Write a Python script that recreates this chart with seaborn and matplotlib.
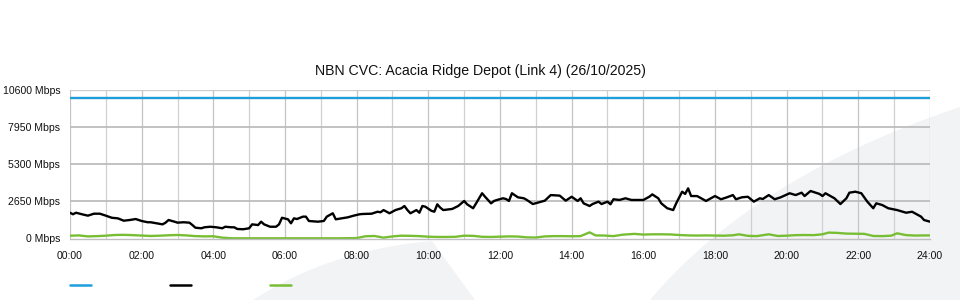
import numpy as np
import pandas as pd
import matplotlib
matplotlib.use("Agg")
import matplotlib.pyplot as plt
import seaborn as sns
from matplotlib.patches import Polygon
from matplotlib.lines import Line2D

# ---------------- data ----------------
title = "NBN CVC: Acacia Ridge Depot (Link 4) (26/10/2025)"
ytick_values = [0, 2650, 5300, 7950, 10600]
ytick_labels = ["0 Mbps", "2650 Mbps", "5300 Mbps", "7950 Mbps", "10600 Mbps"]
xtick_hours = [0, 2, 4, 6, 8, 10, 12, 14, 16, 18, 20, 22, 24]
xtick_labels = ["00:00", "02:00", "04:00", "06:00", "08:00", "10:00", "12:00",
                "14:00", "16:00", "18:00", "20:00", "22:00", "24:00"]

capacity_minutes = [0, 1440]
capacity_mbps = [10000, 10000]

download_minutes = [0, 5, 10, 20, 30, 40, 50, 60, 70, 80, 90, 100, 110, 120, 130, 135, 145, 155,
                    160, 165, 175, 180, 190, 200, 205, 210, 220, 225, 235, 245, 255, 260, 270, 275,
                    280, 290, 300, 305, 315, 320, 325, 335, 345, 350, 355, 365, 370, 375, 380, 390,
                    395, 400, 415, 425, 430, 440, 445, 455, 465, 475, 485, 490, 505, 515, 520, 525,
                    535, 545, 555, 560, 565, 570, 580, 585, 590, 595, 605, 610, 615, 620, 625, 635,
                    640, 650, 660, 665, 675, 680, 690, 695, 705, 710, 715, 725, 730, 735, 740, 750,
                    760, 765, 775, 785, 795, 805, 820, 830, 840, 850, 855, 860, 870, 875, 885, 890,
                    900, 905, 910, 920, 930, 940, 950, 960, 970, 975, 985, 990, 1000, 1010, 1015,
                    1025, 1030, 1035, 1040, 1050, 1060, 1065, 1080, 1090, 1100, 1110, 1115, 1125,
                    1135, 1145, 1155, 1160, 1170, 1180, 1190, 1205, 1215, 1225, 1230, 1240, 1255,
                    1260, 1265, 1280, 1290, 1300, 1305, 1315, 1325, 1335, 1345, 1350, 1360, 1370,
                    1385, 1400, 1410, 1425, 1430, 1440]
download_mbps = [1840, 1730, 1840, 1730, 1630, 1770, 1770, 1630, 1480, 1440, 1270, 1320, 1390, 1250,
                 1160, 1160, 1085, 1010, 1130, 1320, 1200, 1130, 1160, 1130, 960, 770, 730, 800, 840,
                 800, 730, 840, 800, 800, 680, 660, 730, 1010, 960, 1200, 1010, 840, 840, 1010, 1480,
                 1370, 1085, 1440, 1390, 1560, 1560, 1250, 1200, 1250, 1560, 1800, 1370, 1440, 1510,
                 1630, 1730, 1750, 1770, 1910, 1870, 2030, 1800, 2030, 2160, 2320, 2030, 1800, 2030,
                 1840, 2320, 2270, 1980, 1910, 2440, 2200, 2030, 2080, 2110, 2320, 2680, 2440, 2160,
                 2510, 3230, 2980, 2510, 2680, 2750, 2870, 2820, 2680, 3230, 2940, 2870, 2750, 2460,
                 2580, 2700, 3100, 3060, 2700, 2980, 2680, 2870, 2510, 2320, 2460, 2630, 2460, 2630,
                 2440, 2800, 2750, 2870, 2750, 2750, 2750, 2980, 3150, 2870, 2510, 2160, 2030, 2510,
                 3340, 3180, 3580, 3030, 3030, 2800, 2680, 3030, 2800, 2940, 3100, 2800, 2940, 2980,
                 2630, 2870, 2820, 3100, 2800, 2940, 3230, 3100, 3270, 3030, 3390, 3180, 3030, 3230,
                 2870, 2460, 2870, 3270, 3340, 3230, 2630, 2160, 2510, 2390, 2160, 2030, 1840, 1910,
                 1560, 1320, 1200]

upload_minutes = [0, 15, 30, 45, 60, 75, 90, 105, 120, 135, 150, 165, 180, 195, 210, 225, 240, 255,
                  270, 300, 330, 360, 390, 420, 450, 480, 495, 510, 525, 540, 555, 570, 585, 600,
                  615, 630, 645, 660, 675, 690, 705, 720, 735, 750, 765, 780, 795, 810, 825, 840,
                  855, 870, 880, 895, 910, 925, 945, 960, 975, 990, 1005, 1020, 1035, 1050, 1065,
                  1080, 1095, 1110, 1120, 1135, 1150, 1170, 1185, 1200, 1215, 1230, 1245, 1260,
                  1270, 1285, 1300, 1315, 1330, 1345, 1360, 1375, 1385, 1400, 1415, 1430, 1440]
upload_mbps = [200, 220, 150, 170, 200, 250, 260, 240, 210, 180, 200, 230, 250, 220, 170, 150, 160,
               60, 15, 15, 15, 15, 15, 15, 15, 30, 160, 180, 60, 150, 200, 190, 170, 130, 110, 110,
               120, 200, 190, 120, 110, 130, 150, 140, 80, 70, 150, 170, 170, 160, 170, 440, 220,
               210, 170, 270, 330, 280, 300, 300, 290, 250, 220, 210, 220, 210, 200, 230, 300, 190,
               170, 300, 180, 200, 240, 250, 240, 300, 420, 400, 350, 340, 330, 180, 170, 200, 370,
               240, 210, 220, 220]

colors = {"capacity": "#1e9fdc", "download": "#000000", "upload": "#78be34"}

# --------------- frames ---------------
def frame(minutes, values, name):
    return pd.DataFrame({"hour": np.array(minutes) / 60.0, "mbps": values, "series": name})

df = pd.concat([frame(capacity_minutes, capacity_mbps, "capacity"),
                frame(download_minutes, download_mbps, "download"),
                frame(upload_minutes, upload_mbps, "upload")], ignore_index=True)

# --------------- style ----------------
sns.set_style("white")
plt.rcParams["font.family"] = ["Liberation Sans", "DejaVu Sans"]

fig = plt.figure(figsize=(9.6, 3.0), dpi=100)
fig.patch.set_facecolor("white")

# faint background watermark (decoration)
def bez(p0, p1, p2, n=60):
    t = np.linspace(0, 1, n)[:, None]
    p0, p1, p2 = map(np.array, (p0, p1, p2))
    return (1 - t) ** 2 * p0 + 2 * (1 - t) * t * p1 + t ** 2 * p2

def to_fig(pts):
    pts = np.asarray(pts, float)
    return np.column_stack([pts[:, 0] / 960.0, 1 - pts[:, 1] / 300.0])

wm_color = "#f2f3f5"
left_curve = bez((253, 300), (330, 250), (432, 241))
left_piece = np.vstack([left_curve, [[475, 300]]])
fig.add_artist(Polygon(to_fig(left_piece), closed=True, transform=fig.transFigure,
                       facecolor=wm_color, edgecolor="none", zorder=0))
right_curve = bez((650, 300), (755, 176), (960, 107))
right_piece = np.vstack([right_curve, [[960, 300]]])
fig.add_artist(Polygon(to_fig(right_piece), closed=True, transform=fig.transFigure,
                       facecolor=wm_color, edgecolor="none", zorder=0))

ax = fig.add_axes([70 / 960, (300 - 238.5) / 300, 860 / 960, 148.5 / 300])
ax.set_facecolor("none")
ax.set_zorder(2)

palette = [colors["capacity"], colors["download"], colors["upload"]]
sns.lineplot(data=df, x="hour", y="mbps", hue="series", palette=palette,
             hue_order=["capacity", "download", "upload"], linewidth=1.7,
             legend=False, ax=ax, estimator=None, sort=False)

ax.set_xlim(0, 24)
ax.set_ylim(0, 10600)
ax.set_xlabel("")
ax.set_ylabel("")

# grid
for h in range(0, 25):
    ax.axvline(h, color="#c4c4c4" if h % 2 == 0 else "#d0d0d0", linewidth=0.9, zorder=0.5)
for v in ytick_values[1:4]:
    ax.axhline(v, color="#bdbdbd", linewidth=1.3, zorder=0.5)
ax.axhline(10600, color="#cccccc", linewidth=0.9, zorder=0.5)

for s in ["top", "right", "left"]:
    ax.spines[s].set_visible(False)
ax.spines["bottom"].set_color("#bfbfbf")
ax.spines["bottom"].set_linewidth(1.0)

ax.set_xticks(xtick_hours)
ax.set_xticklabels(xtick_labels)
ax.set_yticks(ytick_values)
ax.set_yticklabels(ytick_labels)
ax.tick_params(axis="x", length=7.5, width=1.0, color="#bfbfbf", pad=1.5,
               labelsize=7.6, labelcolor="#111111")
ax.tick_params(axis="y", length=0, pad=7, labelsize=7.6, labelcolor="#111111")

fig.text(0.5, (300 - 71) / 300, title, ha="center", va="center", fontsize=10.2, color="#111111")

# legend swatches (no labels)
for x0, key in zip((70, 170, 270), ["capacity", "download", "upload"]):
    fig.add_artist(Line2D([x0 / 960, (x0 + 21) / 960], [1 - 285 / 300, 1 - 285 / 300],
                          transform=fig.transFigure, color=colors[key], linewidth=1.8))

fig.savefig("out.png", dpi=100, facecolor="white")
